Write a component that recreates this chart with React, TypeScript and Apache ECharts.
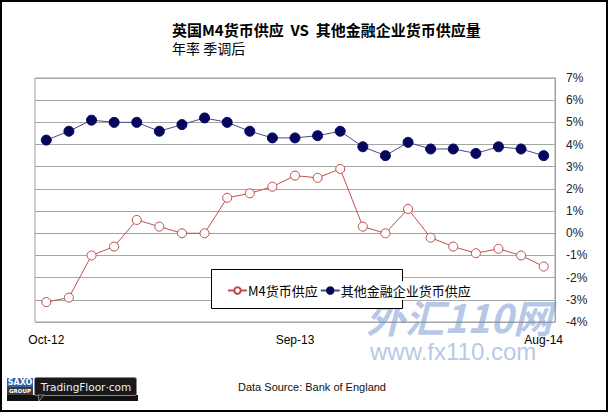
import React, { useEffect, useRef } from "react";
import * as echarts from "echarts";

const CATEGORIES = [
  "Oct-12", "Nov-12", "Dec-12", "Jan-13", "Feb-13", "Mar-13", "Apr-13", "May-13",
  "Jun-13", "Jul-13", "Aug-13", "Sep-13", "Oct-13", "Nov-13", "Dec-13", "Jan-14",
  "Feb-14", "Mar-14", "Apr-14", "May-14", "Jun-14", "Jul-14", "Aug-14",
];
const M4_SUPPLY = [
  -3.1, -2.9, -1.0, -0.6, 0.6, 0.3, 0, 0, 1.6, 1.8, 2.1, 2.6,
  2.5, 2.9, 0.3, 0, 1.1, -0.2, -0.6, -0.9, -0.7, -1.0, -1.5,
];
const OFC_SUPPLY = [
  4.2, 4.6, 5.1, 5.0, 5.0, 4.6, 4.9, 5.2, 5.0, 4.6, 4.3, 4.3,
  4.4, 4.6, 3.9, 3.5, 4.1, 3.8, 3.8, 3.6, 3.9, 3.8, 3.5,
];
const SERIES_NAMES = ["M4货币供应", "其他金融企业货币供应"];
const TITLE = "英国M4货币供应  VS  其他金融企业货币供应量";
const SUBTITLE = "年率 季调后";
const SOURCE = "Data Source: Bank of England";
const Y_MIN = -4;
const Y_MAX = 7;

const CJK = "'Noto Sans CJK SC', sans-serif";
const SANS = "'Liberation Sans', Arial, sans-serif";

export default function App() {
  const ref = useRef<HTMLDivElement>(null);

  useEffect(() => {
    if (!ref.current) return;
    const chart = echarts.init(ref.current, null, { renderer: "svg" });
    chart.setOption({
      animation: false,
      backgroundColor: "#fff",
      title: {
        text: TITLE,
        subtext: SUBTITLE,
        left: 172,
        top: 22,
        padding: 0,
        itemGap: 4,
        textStyle: { fontSize: 15, fontWeight: "bold", color: "#000", fontFamily: CJK },
        subtextStyle: { fontSize: 14, color: "#000", fontFamily: CJK },
      },
      legend: {
        data: SERIES_NAMES,
        left: 227,
        top: 281,
        padding: [3, 8, 3, 0],
        itemGap: 2,
        itemWidth: 19,
        itemHeight: 8,
        backgroundColor: "#fff",
        z: 6,
        textStyle: { fontSize: 13, color: "#000", fontFamily: CJK, padding: [0, 0, 0, -4] },
      },
      grid: {
        left: 35,
        top: 78,
        width: 520,
        height: 244,
        show: true,
        borderColor: "#a0a0a0",
        borderWidth: 1,
        backgroundColor: "transparent",
      },
      xAxis: {
        type: "category",
        data: CATEGORIES,
        boundaryGap: true,
        axisLine: { show: true, lineStyle: { color: "#a0a0a0" } },
        axisTick: { show: false },
        axisLabel: {
          interval: 10,
          margin: 12,
          fontSize: 12,
          color: "#000",
          fontFamily: SANS,
        },
        splitLine: { show: false },
      },
      yAxis: {
        type: "value",
        position: "right",
        min: Y_MIN,
        max: Y_MAX,
        interval: 1,
        axisLine: { show: true, lineStyle: { color: "#a0a0a0" } },
        axisTick: { show: false },
        axisLabel: {
          formatter: "{value}%",
          margin: 11,
          fontSize: 12,
          color: "#222",
          fontFamily: SANS,
        },
        splitLine: { show: true, lineStyle: { color: "#a6a6a6", width: 1 } },
      },
      series: [
        {
          name: SERIES_NAMES[0],
          type: "line",
          data: M4_SUPPLY,
          symbol: "circle",
          symbolSize: 9,
          z: 3,
          lineStyle: { color: "#c0504d", width: 1 },
          itemStyle: { color: "#fff", borderColor: "#b94a48", borderWidth: 1 },
        },
        {
          name: SERIES_NAMES[1],
          type: "line",
          data: OFC_SUPPLY,
          symbol: "circle",
          symbolSize: 10,
          z: 3,
          lineStyle: { color: "#4b4b88", width: 1 },
          itemStyle: { color: "#06065e", borderColor: "#06065e", borderWidth: 1 },
        },
      ],
      graphic: [
        {
          type: "rect",
          z: 5,
          shape: { x: 211.5, y: 269.5, width: 191, height: 39 },
          style: { fill: "#fff", stroke: "#000", lineWidth: 1 },
        },
        {
          type: "text",
          z: 1,
          silent: true,
          left: 366,
          top: 296,
          style: {
            text: "外汇110网",
            font: "italic bold 39px 'Noto Sans CJK SC', sans-serif",
            fill: "rgba(110,145,205,0.5)",
          },
        },
        {
          type: "text",
          z: 1,
          silent: true,
          left: 370,
          top: 339,
          style: {
            text: "www.fx110.com",
            font: "24px 'Liberation Sans', Arial, sans-serif",
            fill: "rgba(110,145,205,0.5)",
          },
        },
        {
          type: "text",
          z: 10,
          left: 238,
          top: 381,
          style: {
            text: SOURCE,
            font: "11px 'Liberation Sans', Arial, sans-serif",
            fill: "#111",
          },
        },
        {
          type: "group",
          z: 10,
          children: [
            { type: "rect", shape: { x: 7, y: 395, width: 131, height: 6 }, style: { fill: "#111" } },
            { type: "rect", shape: { x: 7, y: 378, width: 26, height: 9 }, style: { fill: "#2d63ad" } },
            { type: "rect", shape: { x: 7, y: 387, width: 26, height: 8 }, style: { fill: "#3a3a3a" } },
            {
              type: "text",
              style: { text: "SAXO", x: 20, y: 382.5, align: "center", verticalAlign: "middle", font: "bold 8px 'DejaVu Sans', sans-serif", fill: "#fff" },
            },
            {
              type: "text",
              style: { text: "GROUP", x: 20, y: 391, align: "center", verticalAlign: "middle", font: "bold 5.5px 'DejaVu Sans', sans-serif", fill: "#fff" },
            },
            {
              type: "rect",
              shape: { x: 34.5, y: 377.5, width: 102, height: 18, r: 2 },
              style: { fill: "#1a1a1a", stroke: "#888", lineWidth: 1 },
            },
            {
              type: "polygon",
              shape: { points: [[38, 395], [44, 395], [39, 401]] },
              style: { fill: "#1a1a1a", stroke: "#888", lineWidth: 1 },
            },
            {
              type: "text",
              style: { text: "TradingFloor·com", x: 86, y: 386.5, align: "center", verticalAlign: "middle", font: "10.5px 'DejaVu Sans', sans-serif", fill: "#f0f0f0" },
            },
          ],
        },
        {
          type: "rect",
          z: 20,
          silent: true,
          shape: { x: 1, y: 1, width: 606, height: 410 },
          style: { fill: "none", stroke: "#000", lineWidth: 2 },
        },
      ],
    });
    return () => chart.dispose();
  }, []);

  return (
    <div
      ref={ref}
      style={{ position: "absolute", left: 0, top: 0, width: 608, height: 412, background: "#fff" }}
    />
  );
}
